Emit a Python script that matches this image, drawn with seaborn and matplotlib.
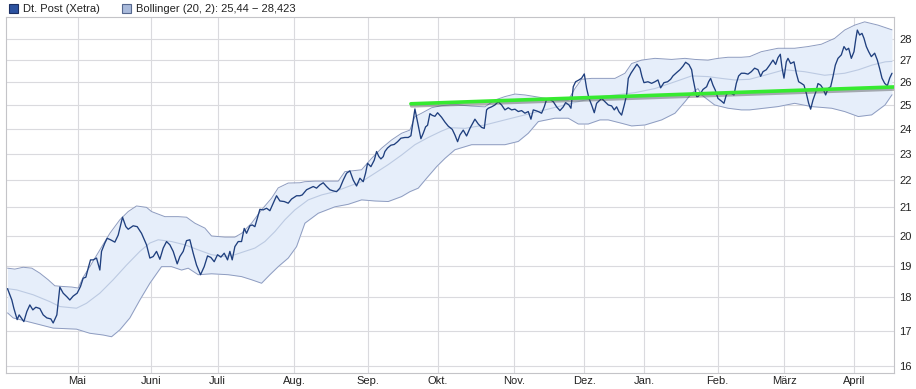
import numpy as np
import pandas as pd
import matplotlib
matplotlib.use("Agg")
import matplotlib.pyplot as plt
import matplotlib.patheffects as pe
from matplotlib.patches import Patch
from matplotlib.ticker import FixedLocator, NullLocator
import seaborn as sns

# x axis = Xetra trading days counted from 2 April 2013
month_labels = ["Mai", "Juni", "Juli", "Aug.", "Sep.", "Okt.", "Nov.", "Dez.",
                "Jan.", "Feb.", "März", "April"]
month_days = [21, 43, 63, 86, 108, 129, 152, 173, 191, 213, 233, 254]

y_ticks = list(range(16, 29))

# Dt. Post closing prices
price_day = [
    0.0, 1.3, 1.9, 2.9, 3.5, 4.9, 5.8, 6.7, 7.6, 8.5, 9.7, 10.7, 11.8, 13.0, 13.7, 14.8,
    15.7, 16.7, 17.8, 18.7, 19.7, 20.9, 21.9, 22.7, 23.5, 24.2, 24.9, 25.7, 26.7, 27.7,
    28.2, 29.2, 29.9, 30.9, 32.2, 33.2, 34.5, 35.5, 36.2, 37.7, 38.9, 40.2, 41.7,
    42.7, 43.7, 44.7, 45.7, 46.7, 47.7, 48.7, 49.7, 50.9, 51.7, 52.7, 53.7, 54.7, 55.7,
    56.7, 57.9, 59.0, 60.0, 61.0, 62.0, 63.0, 64.0, 65.0, 66.0, 66.7, 67.4, 68.2, 69.2,
    70.2, 71.0, 71.7, 72.7, 73.4, 74.2, 75.2, 75.7, 76.7, 77.7, 78.7, 79.7, 80.7, 81.7,
    83.0, 84.2, 85.2, 86.7, 87.7,
    88.4, 89.7, 90.7, 91.7, 92.7, 93.7, 94.7, 95.7, 96.7, 97.7, 98.7, 99.7, 100.7, 101.7,
    102.7, 103.7, 104.7, 105.7, 106.7, 107.4, 108.0, 109.0, 110.0, 110.7, 111.4, 112.0,
    112.7, 113.2, 114.0, 115.0, 116.0, 117.0, 118.0, 119.2, 120.2, 121.0, 122.2, 124.0,
    124.7, 125.4, 126.0, 126.7, 127.4, 128.2, 129.0, 130.2, 131.2,
    132.2, 133.4, 134.2, 135.0, 135.7, 136.7, 137.7, 138.7, 140.2, 141.2, 142.2, 143.0,
    143.7, 144.2, 145.2, 146.2, 147.2, 148.2, 149.2, 150.2, 151.2, 152.2, 153.2, 154.2,
    155.2, 156.2, 157.0, 157.7, 158.4, 159.2, 160.2, 161.0, 161.7, 162.7, 163.7, 164.7,
    165.7, 166.7, 167.4, 168.4, 169.0, 169.7, 170.4, 171.4, 172.2, 173.0, 173.7, 174.4,
    175.2, 176.0, 176.7, 177.7,
    178.2, 179.2, 180.2, 181.2, 182.0, 182.7, 183.4, 184.2, 185.0, 185.7, 186.2, 187.0,
    188.0, 188.8, 189.7, 190.3, 190.9, 192.1, 193.2, 194.2, 195.1, 195.9, 196.9, 198.0,
    198.9, 199.6, 200.7, 201.7, 202.6, 203.4, 204.4, 205.2, 205.6, 206.1, 206.7, 207.1,
    207.9, 208.6, 209.7, 210.3, 210.9, 211.6, 212.3, 213.1, 214.1, 214.9, 215.6, 216.3,
    217.1, 217.9, 218.6, 219.3, 220.1, 221.1, 222.1,
    223.1, 224.1, 225.1, 225.9, 226.6, 227.6, 228.6, 229.6, 230.4, 231.1, 231.8, 232.3,
    232.9, 233.6, 234.1, 234.9, 235.9, 236.6, 237.3, 238.1, 238.9, 239.6, 240.3, 240.9,
    241.6, 242.4, 243.1, 243.9, 244.6, 245.4, 246.1, 246.9, 247.6, 248.3, 249.1, 250.1,
    250.9, 251.6, 252.3, 253.1, 253.9, 254.4, 254.9, 255.6, 256.3, 256.9, 257.6, 258.3,
    259.1, 260.1, 260.9, 261.6, 262.3, 263.1, 263.9, 264.6, 265.3,
]
price_val = [
    18.27, 17.92, 17.67, 17.33, 17.47, 17.27, 17.57, 17.77, 17.62, 17.70, 17.66, 17.47,
    17.38, 17.35, 17.23, 17.47, 18.32, 18.13, 18.02, 17.92, 18.04, 18.13, 18.34, 18.60,
    18.63, 18.92, 19.19, 19.19, 19.25, 18.86, 19.47, 19.75, 19.91, 19.86, 19.78, 20.02,
    20.64, 20.31, 20.22, 20.34, 20.31, 20.08, 19.69,
    19.25, 19.30, 19.47, 19.21, 19.58, 19.80, 19.69, 19.47, 19.06, 19.30, 19.47, 19.83,
    19.86, 19.41, 19.02, 18.71, 18.97, 19.32, 19.27, 19.13, 19.36, 19.28, 19.41, 19.19,
    19.47, 19.19, 19.63, 19.80, 19.80, 20.25, 20.08, 20.34, 20.37, 20.31, 20.72, 20.92,
    20.90, 20.96, 20.87, 21.14, 21.41, 21.22, 21.20, 21.14, 21.29, 21.41, 21.41,
    21.44, 21.63, 21.69, 21.75, 21.69, 21.81, 21.89, 21.75, 21.63, 21.59, 21.56, 21.69,
    21.99, 22.25, 22.34, 21.99, 21.77, 22.06, 21.93, 22.25, 22.63, 22.50, 22.75, 23.09,
    22.89, 22.80, 22.89, 23.09, 23.23, 23.34, 23.37, 23.48, 23.62, 23.65, 23.65, 23.72,
    24.83, 23.60, 23.82, 24.08, 24.15, 24.63, 24.56, 24.52, 24.67, 24.48, 24.28,
    24.11, 23.98, 23.75, 23.48, 23.75, 23.95, 23.71, 24.02, 24.40, 24.20, 24.06, 24.02,
    24.79, 24.86, 24.92, 25.00, 25.14, 25.00, 24.79, 24.88, 24.79, 24.82, 24.72, 24.76,
    24.65, 24.72, 24.40, 24.79, 24.76, 24.72, 24.65, 24.92, 25.24, 25.24, 25.14, 24.92,
    24.76, 24.92, 25.10, 25.00, 24.86, 25.79, 26.01, 26.09, 26.17, 26.36, 25.72, 25.29,
    25.00, 24.67, 25.07, 25.21,
    25.28, 25.14, 25.00, 24.96, 24.79, 24.92, 24.71, 24.57, 25.00, 25.43, 26.16, 26.39,
    26.62, 26.80, 26.62, 26.24, 25.97, 26.01, 25.94, 26.01, 26.09, 25.74, 25.97, 26.01,
    26.12, 26.27, 26.42, 26.55, 26.71, 26.89, 26.78, 26.55, 26.16, 25.79, 25.36, 25.36,
    25.50, 25.67, 25.79, 26.01, 26.16, 25.86, 25.64, 25.28, 25.17, 25.07, 25.43, 25.57,
    25.50, 25.43, 25.94, 26.27, 26.39, 26.39, 26.35,
    26.46, 26.62, 26.55, 26.25, 26.46, 26.55, 26.76, 26.99, 26.79, 27.10, 27.26, 26.65,
    26.17, 26.91, 27.07, 26.83, 26.91, 26.39, 26.01, 25.94, 25.86, 25.50, 25.07, 24.82,
    25.21, 25.54, 25.93, 25.86, 25.71, 25.43, 25.71, 25.79, 26.24, 26.76, 27.07, 27.23,
    27.62, 27.46, 27.54, 27.07, 27.38, 27.93, 28.41, 28.17, 28.25, 28.01, 27.62, 27.38,
    27.15, 27.31, 26.99, 26.60, 26.17, 25.94, 25.83, 26.17, 26.39,
]

# Bollinger (20, 2) bands
upper_day = [0.0, 2.2, 4.7, 7.3, 9.7, 12.2, 14.2, 16.3, 19.3, 21.2, 22.7, 24.7, 27.7, 30.7,
             33.7, 36.2, 38.7, 41.7, 43.2, 47.2, 51.2, 53.7, 56.2, 59.2, 61.2, 65.2, 68.2,
             70.2, 73.2, 76.2, 79.2, 81.2, 84.2, 87.7, 89.2, 92.2, 99.2, 101.2, 106.2, 109.2,
             112.2, 115.2, 118.2, 120.7, 122.2, 124.2, 127.2, 130.2, 132.7, 135.2, 139.2,
             143.2, 146.2, 149.2, 152.2, 155.2, 158.2, 161.2, 164.2, 168.2, 170.2, 172.2,
             175.2, 177.7, 182.2, 185.2, 187.2, 190.2, 194.2, 199.2, 203.2, 206.2, 210.1,
             213.1, 216.1, 220.1, 222.6, 226.1, 231.1, 236.1, 240.1, 244.1, 248.1, 251.1,
             254.1, 257.1, 261.1, 265.3]
upper_val = [18.92, 18.89, 18.95, 18.92, 18.76, 18.55, 18.36, 18.34, 18.32, 18.29, 18.63,
             18.97, 19.52, 20.08, 20.55, 20.84, 21.04, 20.99, 20.84, 20.66, 20.66, 20.64,
             20.43, 20.26, 19.99, 19.95, 19.95, 20.08, 20.43, 20.90, 21.32, 21.70, 21.88,
             21.89, 21.93, 21.95, 21.95, 22.31, 22.38, 22.82, 23.22, 23.55, 23.82, 23.95,
             24.51, 24.65, 24.88, 24.97, 25.00, 25.00, 24.95, 24.92, 25.21, 25.36, 25.47,
             25.43, 25.36, 25.29, 25.21, 25.21, 25.71, 26.12, 26.16, 26.16, 26.16, 26.39,
             26.83, 26.99, 27.07, 27.02, 27.07, 27.02, 26.99, 27.07, 27.12, 27.12, 27.15,
             27.38, 27.54, 27.54, 27.62, 27.73, 28.01, 28.41, 28.65, 28.81, 28.65, 28.42]

middle_day = [0.0, 2.8, 7.7, 12.7, 15.7, 20.7, 23.7, 27.7, 31.7, 35.7, 39.7, 42.7, 45.2,
              49.2, 53.2, 57.2, 61.2, 65.2, 68.2, 71.2, 74.2, 77.2, 80.2, 83.2, 86.2, 90.2,
              94.2, 98.2, 102.2, 106.2, 110.2, 114.2, 118.2, 122.2, 126.2, 130.2, 132.7,
              137.2, 143.2, 149.2, 155.2, 161.2, 167.2, 173.2, 177.7, 182.2, 188.2, 194.2,
              200.2, 205.2, 210.1, 214.1, 218.1, 222.6, 227.1, 233.1, 239.1, 245.1, 251.1,
              255.3, 259.3, 263.3, 265.3]
middle_val = [18.27, 18.23, 18.08, 17.87, 17.72, 17.67, 17.82, 18.13, 18.55, 19.02, 19.47,
              19.75, 19.86, 19.80, 19.69, 19.52, 19.36, 19.30, 19.36, 19.47, 19.58, 19.80,
              20.14, 20.55, 20.90, 21.26, 21.44, 21.56, 21.75, 21.93, 22.25, 22.58, 22.95,
              23.36, 23.65, 23.91, 24.05, 24.02, 24.16, 24.37, 24.58, 24.79, 25.00, 25.21,
              25.36, 25.43, 25.53, 25.71, 26.01, 26.27, 26.24, 26.16, 26.09, 26.12, 26.30,
              26.55, 26.46, 26.30, 26.39, 26.55, 26.76, 26.91, 26.93]

lower_day = [0.0, 1.7, 3.7, 7.7, 13.7, 20.7, 24.7, 28.7, 31.2, 33.7, 36.7, 39.7, 42.7,
             46.2, 49.2, 52.2, 54.2, 57.2, 61.2, 66.2, 70.2, 73.2, 76.2, 78.7, 81.2, 84.2,
             86.7, 89.2, 93.2, 98.2, 102.2, 106.2, 110.2, 114.2, 118.2, 120.7, 123.2, 125.7,
             128.7, 131.2, 134.2, 139.2, 144.2, 149.2, 153.2, 156.2, 159.2, 164.2, 168.2,
             171.2, 174.2, 177.7, 180.2, 184.2, 187.2, 191.2, 196.2, 200.2, 203.2, 205.2,
             207.1, 208.2, 212.1, 216.1, 220.1, 222.6, 231.1, 236.1, 241.2, 247.2, 251.1,
             255.2, 259.2, 263.2, 265.3]
lower_val = [17.53, 17.38, 17.33, 17.23, 17.08, 17.05, 16.93, 16.88, 16.83, 17.03, 17.38,
             17.92, 18.44, 18.97, 18.97, 18.86, 18.92, 18.71, 18.74, 18.71, 18.65, 18.55,
             18.44, 18.71, 18.97, 19.25, 19.63, 20.43, 20.78, 21.01, 21.10, 21.26, 21.22,
             21.20, 21.38, 21.56, 21.69, 22.06, 22.50, 22.82, 23.16, 23.36, 23.36, 23.36,
             23.49, 23.82, 24.30, 24.44, 24.44, 24.20, 24.20, 24.37, 24.37, 24.23, 24.12,
             24.16, 24.37, 24.65, 25.14, 25.50, 25.71, 25.43, 25.00, 24.86, 24.79, 24.79,
             24.93, 25.07, 24.93, 24.86, 24.72, 24.51, 24.58, 25.00, 25.44]

# hand drawn trend line
trend_day = [121.0, 265.9]
trend_val = [25.05, 25.78]

price_color = "#1f3f7e"
band_fill = "#e6eefa"
band_edge = "#8e9cc0"
middle_color = "#bccae2"
grid_color = "#dadade"

sns.set_style("white")
plt.rcParams["font.family"] = ["Liberation Sans", "DejaVu Sans"]

fig = plt.figure(figsize=(9.16, 3.89), dpi=100)
ax = fig.add_axes([6 / 916, 1 - 373 / 389, 888 / 916, 356 / 389])

# band: interpolate both edges on a common grid so it can be filled
grid_days = np.linspace(0, 265.3, 600)
up_i = np.interp(grid_days, upper_day, upper_val)
lo_i = np.interp(grid_days, lower_day, lower_val)
ax.fill_between(grid_days, lo_i, up_i, color=band_fill, lw=0, zorder=1)

bands = pd.DataFrame({"day": upper_day, "val": upper_val})
sns.lineplot(data=bands, x="day", y="val", ax=ax, color=band_edge, lw=0.7, zorder=2,
             estimator=None)
bands = pd.DataFrame({"day": lower_day, "val": lower_val})
sns.lineplot(data=bands, x="day", y="val", ax=ax, color=band_edge, lw=0.7, zorder=2,
             estimator=None)
bands = pd.DataFrame({"day": middle_day, "val": middle_val})
sns.lineplot(data=bands, x="day", y="val", ax=ax, color=middle_color, lw=0.8, zorder=2,
             estimator=None)

price = pd.DataFrame({"day": price_day, "val": price_val})
sns.lineplot(data=price, x="day", y="val", ax=ax, color=price_color, lw=0.95, zorder=4,
             estimator=None)

trend = pd.DataFrame({"day": trend_day, "val": trend_val})
sns.lineplot(data=trend, x="day", y="val", ax=ax, color="#36ea30", lw=2.6, zorder=5,
             estimator=None,
             path_effects=[pe.SimpleLineShadow(offset=(0.5, -1.5), shadow_color="#404040",
                                               alpha=0.4), pe.Normal()])

ax.set_yscale("log")
ax.set_ylim(15.82, 29.05)
ax.set_xlim(-0.45, 265.9)
ax.yaxis.set_major_locator(FixedLocator(y_ticks))
ax.yaxis.set_minor_locator(NullLocator())
ax.set_yticklabels([str(t) for t in y_ticks])
ax.set_xticks(month_days)
ax.set_xticklabels(month_labels)
ax.yaxis.tick_right()
ax.tick_params(axis="both", length=0, labelsize=8, colors="#222222")
ax.tick_params(axis="y", pad=4)
ax.tick_params(axis="x", pad=2)
for lab in ax.get_yticklabels():
    lab.set_horizontalalignment("left")
ax.set_xlabel("")
ax.set_ylabel("")

ax.grid(True, color=grid_color, lw=0.8)
ax.set_axisbelow(True)
for sp in ax.spines.values():
    sp.set_color("#c4c4c8")
    sp.set_linewidth(0.8)

handles = [Patch(facecolor="#2c52a0", edgecolor="#1b2f63", lw=0.8),
           Patch(facecolor="#a9badb", edgecolor="#56688f", lw=0.8)]
labels = ["Dt. Post (Xetra)", "Bollinger (20, 2): 25,44 \u2212 28,423"]
fig.legend(handles, labels, loc="upper left", bbox_to_anchor=(0.0, 1.012), ncol=2,
           frameon=False, fontsize=8, handlelength=0.8, handleheight=0.8,
           handletextpad=0.45, columnspacing=2.0, borderpad=0.3, labelcolor="#222222")

fig.savefig("out.png", dpi=100)
